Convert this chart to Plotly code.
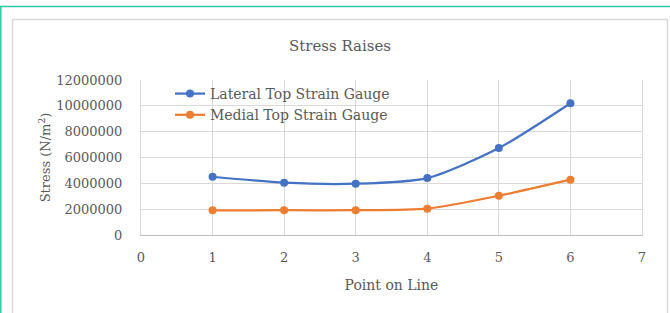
import plotly.graph_objects as go

points = [1, 2, 3, 4, 5, 6]
lateral = [4510000, 4050000, 3970000, 4410000, 6730000, 10200000]
medial = [1910000, 1920000, 1920000, 2040000, 3040000, 4280000]
series_names = ["Lateral Top Strain Gauge", "Medial Top Strain Gauge"]
colors = ["#4472c4", "#ed7d31"]
title_text = "Stress Raises"
x_title = "Point on Line"
y_title = "Stress (N/m<sup>2</sup>)"
y_ticks = [0, 2000000, 4000000, 6000000, 8000000, 10000000, 12000000]
x_ticks = [0, 1, 2, 3, 4, 5, 6, 7]

FONT = "DejaVu Serif"
W, H = 670, 313
L, R, T, B = 141, 28, 80, 78
pw, ph = W - L - R, H - T - B

def px(x):
    return (x - L) / pw

def py(y):
    return (H - B - y) / ph

fig = go.Figure()
for name, vals, c in zip(series_names, [lateral, medial], colors):
    fig.add_trace(go.Scatter(
        x=points, y=vals, name=name, mode="lines+markers",
        line=dict(color=c, width=2.25, shape="spline", smoothing=0.7),
        marker=dict(color=c, size=8),
    ))

shapes = [
    dict(type="rect", xref="paper", yref="paper", x0=px(12.5), x1=px(667.5), y0=py(320), y1=py(19.5),
         line=dict(color="#d9d9d9", width=1.5), fillcolor="rgba(0,0,0,0)", layer="below"),
    dict(type="line", xref="paper", yref="paper", x0=px(0), x1=px(670), y0=py(6.5), y1=py(6.5),
         line=dict(color="#2ec8a8", width=1.5)),
    dict(type="line", xref="paper", yref="paper", x0=px(0.8), x1=px(0.8), y0=py(6.5), y1=py(320),
         line=dict(color="#2ec8a8", width=1.5)),
]

fig.update_layout(
    width=W, height=H,
    margin=dict(l=L, r=R, t=T, b=B),
    paper_bgcolor="white", plot_bgcolor="white",
    font=dict(family=FONT, color="#595959", size=13),
    title=dict(text=title_text, xref="container", x=340 / W, xanchor="center",
               yref="container", y=1 - 46 / H, yanchor="middle",
               font=dict(family=FONT, size=15, color="#595959")),
    xaxis=dict(range=[0, 7], tickvals=x_ticks, showgrid=True, gridcolor="#d9d9d9", gridwidth=1,
               zeroline=False, showline=True, linecolor="#bfbfbf", linewidth=1,
               ticks="", ticklabelstandoff=10,
               title=dict(text=x_title, font=dict(family=FONT, size=14, color="#595959"), standoff=16),
               tickfont=dict(size=13, color="#595959")),
    yaxis=dict(range=[0, 12000000], tickvals=y_ticks, tickformat="d", showgrid=True,
               gridcolor="#d9d9d9", gridwidth=1, zeroline=False,
               showline=True, mirror=True, linecolor="#d9d9d9", linewidth=1,
               ticks="", ticklabelstandoff=15,
               title=dict(text=y_title, font=dict(family=FONT, size=13, color="#595959"), standoff=2),
               tickfont=dict(size=13, color="#595959")),
    legend=dict(x=px(170), y=py(78), xanchor="left", yanchor="top", bgcolor="rgba(0,0,0,0)",
                font=dict(family=FONT, size=14, color="#595959"), itemwidth=30,
                tracegroupgap=0),
    shapes=shapes,
    showlegend=True,
)

fig.write_html("out.html", config={"displayModeBar": False},
               post_script="document.body.style.margin='0';")
